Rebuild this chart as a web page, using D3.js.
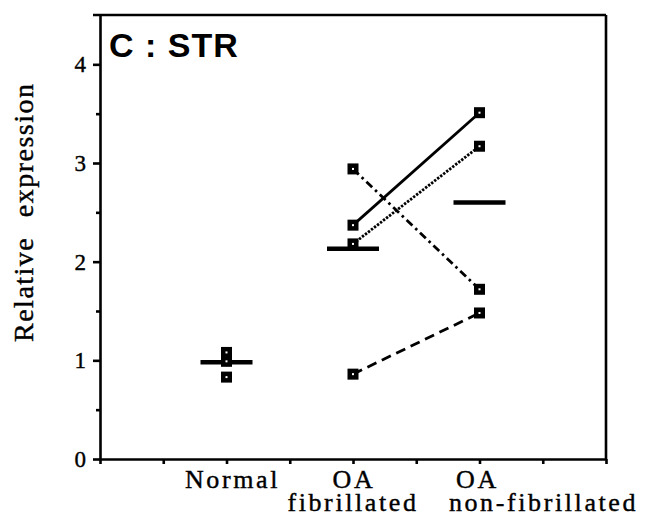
<!DOCTYPE html>
<html>
<head>
<meta charset="utf-8">
<script src="https://cdn.jsdelivr.net/npm/d3@7"></script>
<style>
  body { margin: 0; background: #fff; }
  svg { display: block; }
</style>
</head>
<body>
<svg id="plot" width="648" height="521"></svg>
<script>
// values
const categories = ["Normal", "OA fibrillated", "OA non-fibrillated"];
const categoryPos = [2, 4, 6];
const normalValues = [1.08, 0.99, 0.83];
const fibrillatedValues = [2.37, 2.18, 2.94, 0.86];
const nonFibrillatedValues = [3.51, 3.17, 1.72, 1.48];
const meanValues = [0.98, 2.13, 2.60];
const yTickValues = [0, 1, 2, 3, 4];
const yMinorTickValues = [0.5, 1.5, 2.5, 3.5];
const xTickValues = [0, 1, 2, 3, 4, 5, 6, 7, 8];
const categoryLines = [["Normal"], ["OA", "fibrillated"], ["OA", "non-fibrillated"]];

// one dash style per patient line (solid, dotted, dash-dot, dashed)
const pairDash = [null, "2.4,1.4", "8,4,2.5,4", "10,6"];

const svg = d3.select("#plot");
svg.selectAll("*").remove();

const xScale = d3.scaleLinear()
  .domain([0, 8])
  .range([100, 606]);

const yScale = d3.scaleLinear()
  .domain([0, 4.5])
  .range([459, 15]);

const serif = "'Liberation Serif', 'Times New Roman', Times, serif";

// y axis, major ticks with labels
const yAxis = svg.append("g")
  .attr("transform", `translate(${xScale(0)}, 0)`)
  .call(d3.axisLeft(yScale)
    .tickValues(yTickValues)
    .tickSize(7)
    .tickSizeOuter(0)
    .tickPadding(7)
    .tickFormat(d3.format("d")));

// minor ticks
svg.append("g")
  .attr("transform", `translate(${xScale(0)}, 0)`)
  .call(d3.axisLeft(yScale)
    .tickValues(yMinorTickValues)
    .tickSize(4)
    .tickSizeOuter(0)
    .tickFormat(""))
  .select(".domain").remove();

// x axis
svg.append("g")
  .attr("transform", `translate(0, ${yScale(0)})`)
  .call(d3.axisBottom(xScale)
    .tickValues(xTickValues)
    .tickSize(5)
    .tickSizeOuter(0)
    .tickFormat(""));

svg.selectAll(".domain, .tick line")
  .attr("stroke", "#000")
  .attr("stroke-width", 2.6);

yAxis.selectAll("text")
  .attr("font-family", serif)
  .attr("font-size", 23)
  .attr("stroke", "#000")
  .attr("stroke-width", 0.4)
  .attr("fill", "#000");

// frame: top and right edges
svg.append("line")
  .attr("x1", xScale(0) - 7)
  .attr("x2", xScale(8))
  .attr("y1", yScale(4.5))
  .attr("y2", yScale(4.5))
  .attr("stroke", "#000")
  .attr("stroke-width", 2.6);

svg.append("line")
  .attr("x1", xScale(8))
  .attr("x2", xScale(8))
  .attr("y1", yScale(4.5))
  .attr("y2", yScale(0))
  .attr("stroke", "#000")
  .attr("stroke-width", 2.6);

// title
svg.append("text")
  .attr("x", 109)
  .attr("y", 57)
  .text("C : STR")
  .attr("font-family", "'Liberation Sans', Arial, Helvetica, sans-serif")
  .attr("font-weight", "bold")
  .attr("font-size", 34)
  .attr("letter-spacing", 1)
  .attr("fill", "#000");

// y axis title
svg.append("text")
  .attr("transform", "translate(33, 342) rotate(-90)")
  .text("Relative expression")
  .attr("font-family", serif)
  .attr("font-size", 28)
  .attr("letter-spacing", 1.5)
  .attr("word-spacing", 11)
  .attr("stroke", "#000")
  .attr("stroke-width", 0.4)
  .attr("fill", "#000");

// category labels
const labelDx = [[6], [1, 0], [-2, 64]];
const labelY = [488, 511];
categoryLines.forEach((lines, i) => {
  lines.forEach((line, j) => {
    svg.append("text")
      .attr("x", xScale(categoryPos[i]) + labelDx[i][j])
      .attr("y", labelY[j])
      .attr("text-anchor", "middle")
      .text(line)
      .attr("font-family", serif)
      .attr("font-size", 26)
      .attr("letter-spacing", 2.6)
      .attr("stroke", "#000")
      .attr("stroke-width", 0.4)
      .attr("fill", "#000");
  });
});

// paired lines between the two OA groups
const pairs = fibrillatedValues.map((v, i) => [v, nonFibrillatedValues[i]]);
svg.append("g")
  .selectAll("path")
  .data(pairs)
  .enter().append("path")
  .attr("d", d => d3.line()
    .x((v, k) => xScale(categoryPos[k + 1]))
    .y(v => yScale(v))(d))
  .attr("fill", "none")
  .attr("stroke", "#000")
  .attr("stroke-width", 2.8)
  .attr("stroke-dasharray", (d, i) => pairDash[i]);

// mean bars
const barHalf = 26;
svg.append("g")
  .selectAll("line")
  .data(meanValues)
  .enter().append("line")
  .attr("x1", (d, i) => xScale(categoryPos[i]) - barHalf)
  .attr("x2", (d, i) => xScale(categoryPos[i]) + barHalf)
  .attr("y1", d => yScale(d))
  .attr("y2", d => yScale(d))
  .attr("stroke", "#000")
  .attr("stroke-width", 4.5);

// points
const points = [];
normalValues.forEach(v => points.push({ c: 0, v }));
fibrillatedValues.forEach(v => points.push({ c: 1, v }));
nonFibrillatedValues.forEach(v => points.push({ c: 2, v }));

const marks = svg.append("g")
  .selectAll("g")
  .data(points)
  .enter().append("g")
  .attr("transform", d => `translate(${xScale(categoryPos[d.c])}, ${yScale(d.v)})`);

marks.append("rect")
  .attr("x", -5.5)
  .attr("y", -5.5)
  .attr("width", 11)
  .attr("height", 11)
  .attr("fill", "#000");

marks.append("rect")
  .attr("x", -1)
  .attr("y", -1)
  .attr("width", 2)
  .attr("height", 2)
  .attr("fill", "#fff");
</script>
</body>
</html>
